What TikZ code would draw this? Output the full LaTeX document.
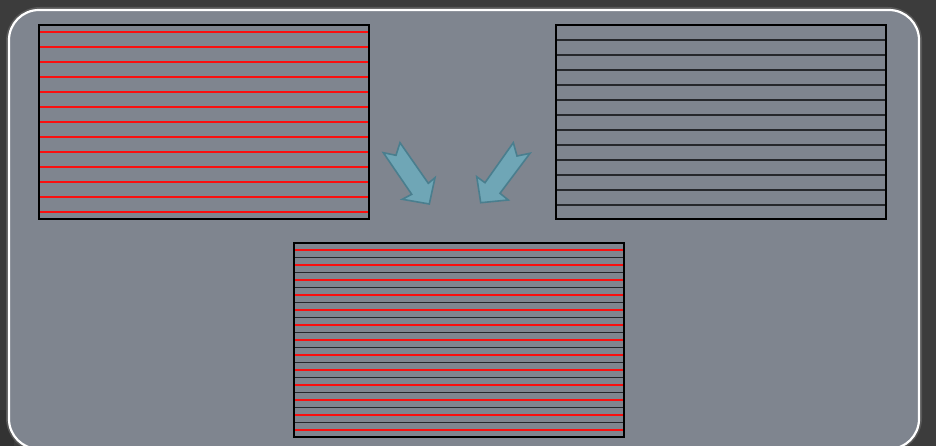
\documentclass[tikz,border=0pt]{standalone}
\usetikzlibrary{calc}
\definecolor{bgdark}{RGB}{60,60,60}
\definecolor{panelfill}{RGB}{127,133,143}
\definecolor{arrowfill}{RGB}{111,166,182}
\definecolor{arrowedge}{RGB}{74,126,142}
\definecolor{redline}{RGB}{250,15,15}
\definecolor{darkline}{RGB}{38,40,44}
\tikzset{
  sheet/.style={draw=black, line width=2.2pt, fill=none, inner sep=0pt, outer sep=0pt,
    minimum width=330pt, minimum height=194pt, anchor=north west},
  redrule/.style={draw=redline, line width=1.2pt},
  blackrule/.style={draw=darkline, line width=1.3pt},
  fatarrow/.style={fill=arrowfill, draw=arrowedge, line width=1.6pt, line join=miter},
}
\begin{document}
\begin{tikzpicture}[x=1pt,y=-1pt]
\useasboundingbox (0,0) rectangle (936,446);
\fill[bgdark] (0,0) rectangle (936,446);
\fill[black!60!gray] (0,410) rectangle (14,446);
% soft halo and panel
\draw[gray!70!black, line width=6pt, rounded corners=31pt] (9,10) -- (919,10) -- (919,449) -- (9,449) -- cycle;
\draw[white, line width=2.2pt, fill=panelfill, rounded corners=30pt] (9,10) -- (919,10) -- (919,449) -- (9,449) -- cycle;

% sheets
\node[sheet] (L) at (39,25) {};
\node[sheet] (R) at (556,25) {};
\node[sheet] (B) at (294,243) {};

\foreach \i in {0,...,12}{
  \draw[redrule] ($(L.north west)+(1,7+15*\i)$) -- ($(L.north east)+(-1,7+15*\i)$);
  \draw[redrule] ($(B.north west)+(1,7+15*\i)$) -- ($(B.north east)+(-1,7+15*\i)$);
}
\foreach \i in {0,...,11}{
  \draw[blackrule] ($(R.north west)+(1,15+15*\i)$) -- ($(R.north east)+(-1,15+15*\i)$);
  \draw[blackrule] ($(B.north west)+(1,14.5+15*\i)$) -- ($(B.north east)+(-1,14.5+15*\i)$);
}
\node[sheet] at (39,25) {};
\node[sheet] at (556,25) {};
\node[sheet] at (294,243) {};

% arrows
\draw[fatarrow] (383.3,152.7) -- (396,155.3) -- (400,142.7) -- (428.3,183.3) -- (435,177.7)
  -- (429.3,204) -- (402.3,199.3) -- (411.7,194.3) -- cycle;
\draw[fatarrow] (530,153.3) -- (517,156) -- (513.3,142.7) -- (485,182.7) -- (476.7,176.7)
  -- (480.7,202.7) -- (508.3,200) -- (500,193.3) -- cycle;
\end{tikzpicture}
\end{document}
